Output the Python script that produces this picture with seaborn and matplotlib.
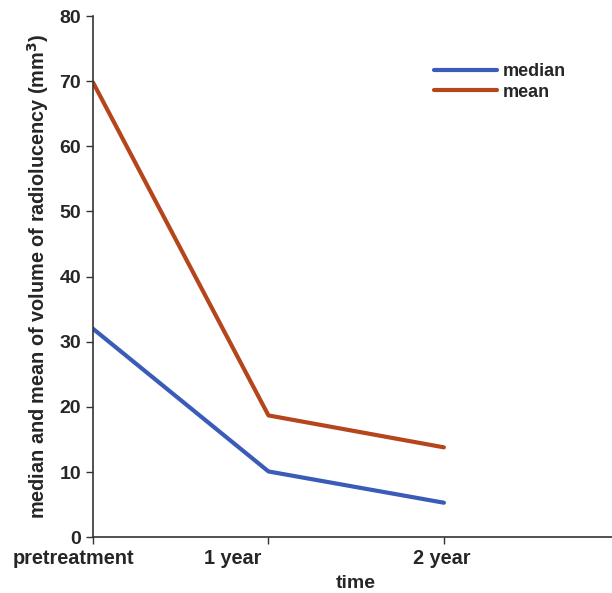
import numpy as np
import pandas as pd
import seaborn as sns
import matplotlib.pyplot as plt
from matplotlib.transforms import ScaledTranslation

sns.set_style("ticks")
plt.rcParams['font.family'] = ['Liberation Sans', 'DejaVu Sans']
plt.rcParams['font.weight'] = 'bold'

time_labels = ['pretreatment', '1 year', '2 year']
median_vals = [32.0, 10.1, 5.3]
mean_vals = [69.8, 18.7, 13.8]

d = pd.DataFrame({
    'pos': list(range(len(time_labels))) * 2,
    'value': median_vals + mean_vals,
    'stat': ['median'] * 3 + ['mean'] * 3,
})

fig = plt.figure(figsize=(6.12, 5.93), dpi=100)
ax = fig.add_axes([0.152, 0.094, 0.86, 0.879])

sns.lineplot(data=d, x='pos', y='value', hue='stat', ax=ax,
             palette={'median': '#3a5bb8', 'mean': '#b5461c'},
             linewidth=3.0, legend=True)

ax.set_xlim(0, 3.0)
ax.set_ylim(0, 80)
ax.set_xticks(range(len(time_labels)))
ax.set_xticklabels(time_labels, fontsize=14.3, fontweight='bold')
ax.set_yticks(range(0, 81, 10))
ax.tick_params(axis='y', labelsize=14, length=5, width=1, color='#333333')
ax.tick_params(axis='x', length=5, width=1, color='#333333')
for s in ['left', 'bottom']:
    ax.spines[s].set_color('#333333')
    ax.spines[s].set_linewidth(1.2)
sns.despine(ax=ax)

# shift tick labels a bit like the original
for lab, dx in zip(ax.get_xticklabels(), [-20, -36, -2]):
    lab.set_transform(lab.get_transform() + ScaledTranslation(dx / 100, 0, fig.dpi_scale_trans))

ax.set_xlabel('time', fontsize=14, fontweight='bold', labelpad=5)
ax.set_ylabel('median and mean of volume of radiolucency (mm$^\\mathbf{3}$)',
              fontsize=14.3, fontweight='bold', labelpad=6)

ax.legend(loc='upper left', bbox_to_anchor=(0.648, 0.91), frameon=False,
          borderaxespad=0, borderpad=0,
          handlelength=3.5, handletextpad=0.28, labelspacing=0.2,
          prop={'size': 13, 'weight': 'bold'})

fig.savefig('out.png', dpi=100)
